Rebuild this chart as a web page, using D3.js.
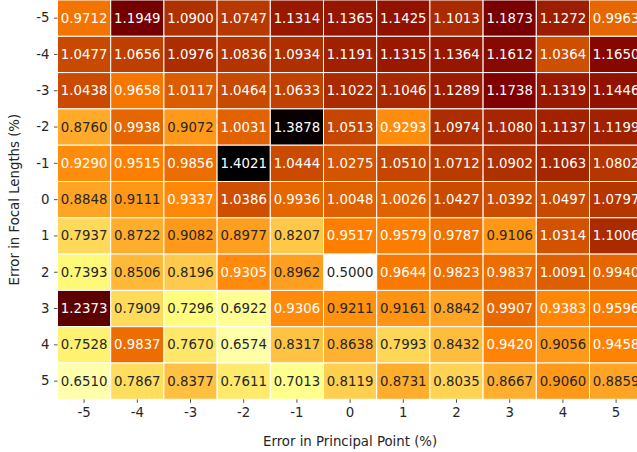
<!DOCTYPE html>
<html>
<head>
<meta charset="utf-8">
<script src="https://cdn.jsdelivr.net/npm/d3@7"></script>
<style>
  html, body { margin: 0; padding: 0; background: #fff; overflow: hidden; }
  svg { display: block; font-family: "DejaVu Sans", sans-serif; }
</style>
</head>
<body>
<svg id="chart" width="637" height="452"></svg>
<script>
// Error in principal point (columns) and focal lengths (rows), in percent
const principalErrors = ["-5", "-4", "-3", "-2", "-1", "0", "1", "2", "3", "4", "5"];
const focalErrors = ["-5", "-4", "-3", "-2", "-1", "0", "1", "2", "3", "4", "5"];

// One row per focal-length error, one value per principal-point error
const rowM5 = [0.9712, 1.1949, 1.0900, 1.0747, 1.1314, 1.1365, 1.1425, 1.1013, 1.1873, 1.1272, 0.9963];
const rowM4 = [1.0477, 1.0656, 1.0976, 1.0836, 1.0934, 1.1191, 1.1315, 1.1364, 1.1612, 1.0364, 1.1650];
const rowM3 = [1.0438, 0.9658, 1.0117, 1.0464, 1.0633, 1.1022, 1.1046, 1.1289, 1.1738, 1.1319, 1.1446];
const rowM2 = [0.8760, 0.9938, 0.9072, 1.0031, 1.3878, 1.0513, 0.9293, 1.0974, 1.1080, 1.1137, 1.1199];
const rowM1 = [0.9290, 0.9515, 0.9856, 1.4021, 1.0444, 1.0275, 1.0510, 1.0712, 1.0902, 1.1063, 1.0802];
const row0  = [0.8848, 0.9111, 0.9337, 1.0386, 0.9936, 1.0048, 1.0026, 1.0427, 1.0392, 1.0497, 1.0797];
const rowP1 = [0.7937, 0.8722, 0.9082, 0.8977, 0.8207, 0.9517, 0.9579, 0.9787, 0.9106, 1.0314, 1.1006];
const rowP2 = [0.7393, 0.8506, 0.8196, 0.9305, 0.8962, 0.5000, 0.9644, 0.9823, 0.9837, 1.0091, 0.9940];
const rowP3 = [1.2373, 0.7909, 0.7296, 0.6922, 0.9306, 0.9211, 0.9161, 0.8842, 0.9907, 0.9383, 0.9596];
const rowP4 = [0.7528, 0.9837, 0.7670, 0.6574, 0.8317, 0.8638, 0.7993, 0.8432, 0.9420, 0.9056, 0.9458];
const rowP5 = [0.6510, 0.7867, 0.8377, 0.7611, 0.7013, 0.8119, 0.8731, 0.8035, 0.8667, 0.9060, 0.8859];

const rows = [rowM5, rowM4, rowM3, rowM2, rowM1, row0, rowP1, rowP2, rowP3, rowP4, rowP5];

const cells = [];
rows.forEach((vals, i) => vals.forEach((v, j) => {
  cells.push({ fy: focalErrors[i], px: principalErrors[j], value: v });
}));

const svg = d3.select("#chart");
const plotLeft = 57.5, plotRight = 642.7, plotTop = 0, plotBottom = 399.3;
const fontSize = "13.3px";

const x = d3.scaleBand().domain(principalErrors).range([plotLeft, plotRight]);
const y = d3.scaleBand().domain(focalErrors).range([plotTop, plotBottom]);

const allVals = rows.flat();
const vmin = d3.min(allVals), vmax = d3.max(allVals);

// Reversed "afmhot" colour map with a 256-entry lookup table
const clip = v => Math.max(0, Math.min(1, v));
function afmhotR(v) {
  const t = (v - vmin) / (vmax - vmin);
  let idx = Math.floor(t * 256);
  idx = Math.max(0, Math.min(255, idx));
  const s = 1 - idx / 255;
  return [clip(2 * s), clip(2 * s - 0.5), clip(2 * s - 1)];
}
function toCss(c) {
  return d3.rgb(c[0] * 255, c[1] * 255, c[2] * 255).formatHex();
}
function luminance(c) {
  const lin = u => (u <= 0.03928 ? u / 12.92 : Math.pow((u + 0.055) / 1.055, 2.4));
  return 0.2126 * lin(c[0]) + 0.7152 * lin(c[1]) + 0.0722 * lin(c[2]);
}

const g = svg.append("g");

g.selectAll("rect.cell")
  .data(cells)
  .join("rect")
  .attr("class", "cell")
  .attr("x", d => x(d.px))
  .attr("y", d => y(d.fy))
  .attr("width", x.bandwidth())
  .attr("height", y.bandwidth())
  .attr("fill", d => toCss(afmhotR(d.value)))
  .attr("stroke", "#ffffff")
  .attr("stroke-width", 1);

g.selectAll("text.annot")
  .data(cells)
  .join("text")
  .attr("class", "annot")
  .attr("x", d => x(d.px) + x.bandwidth() / 2)
  .attr("y", d => y(d.fy) + y.bandwidth() / 2)
  .attr("text-anchor", "middle")
  .attr("dominant-baseline", "central")
  .attr("font-size", fontSize)
  .attr("fill", d => (luminance(afmhotR(d.value)) > 0.408 ? "#262626" : "#ffffff"))
  .text(d => d.value.toFixed(4));

// Axes
const xAxis = d3.axisBottom(x).tickSize(3.5).tickPadding(5);
const yAxis = d3.axisLeft(y).tickSize(3.5).tickPadding(4.5);

const gx = svg.append("g").attr("transform", `translate(0,${plotBottom})`).call(xAxis);
const gy = svg.append("g").attr("transform", `translate(${plotLeft},0)`).call(yAxis);

[gx, gy].forEach(a => {
  a.select(".domain").remove();
  a.selectAll(".tick line").attr("stroke", "#262626").attr("stroke-width", 0.8);
  a.selectAll(".tick text")
    .attr("fill", "#262626")
    .attr("font-size", fontSize)
    .attr("font-family", "DejaVu Sans, sans-serif");
});

svg.append("text")
  .attr("x", (plotLeft + plotRight) / 2)
  .attr("y", 446)
  .attr("text-anchor", "middle")
  .attr("font-size", fontSize)
  .attr("fill", "#262626")
  .text("Error in Principal Point (%)");

svg.append("text")
  .attr("transform", `translate(19,${(plotTop + plotBottom) / 2}) rotate(-90)`)
  .attr("text-anchor", "middle")
  .attr("font-size", fontSize)
  .attr("fill", "#262626")
  .text("Error in Focal Lengths (%)");
</script>
</body>
</html>
